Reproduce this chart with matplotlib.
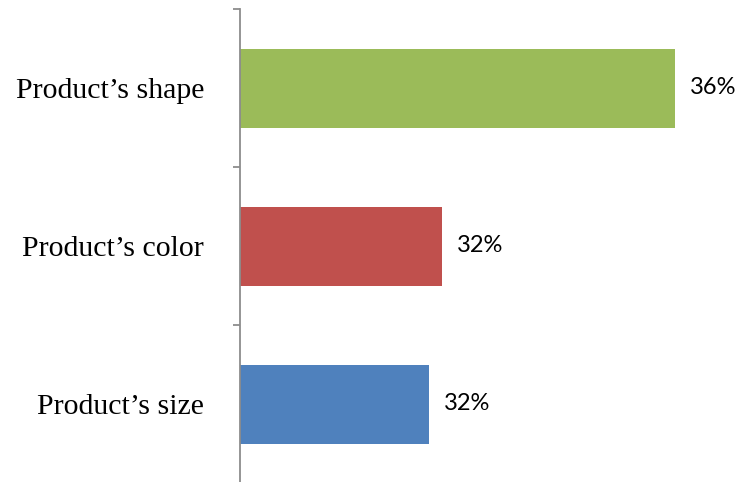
import matplotlib
matplotlib.use("Agg")
import matplotlib.pyplot as plt

# Survey shares (percent), listed bottom to top
categories = ["Product\u2019s size", "Product\u2019s color", "Product\u2019s shape"]
shares = [32.0, 32.2, 35.9]
bar_colors = ["#4F81BD", "#C0504D", "#9BBB59"]

DPI = 100
fig = plt.figure(figsize=(7.49, 4.82), dpi=DPI)
ax = fig.add_axes([240 / 749, -1 / 482, 509 / 749, 474 / 482])

positions = list(range(len(categories)))
ax.barh(positions, shares, height=0.5, left=0, color=bar_colors, zorder=2)

ax.set_xlim(29, 29 + 509 / 63)
ax.set_ylim(-0.5, len(categories) - 0.5)

# value labels to the right of each bar
for y, v in zip(positions, shares):
    ax.annotate(f"{v:.0f}%", xy=(v, y), xytext=(15, 0), textcoords="offset pixels",
                ha="left", va="center", fontsize=17, family="Lato", color="black")

# category axis: boundary ticks as major, labels on minor positions
ax.set_yticks([p - 0.5 for p in positions] + [positions[-1] + 0.5])
ax.set_yticklabels([])
ax.tick_params(axis="y", which="major", length=5, width=1.3, color="#8c8c8c", direction="out")
ax.set_yticks(positions, minor=True)
ax.set_yticklabels(categories, minor=True, family="Liberation Serif", fontsize=21.5)
ax.tick_params(axis="y", which="minor", length=0, pad=26)

ax.set_xticks([])
for side in ["top", "right", "bottom"]:
    ax.spines[side].set_visible(False)
ax.spines["left"].set_color("#8c8c8c")
ax.spines["left"].set_linewidth(1.3)

fig.savefig("out.png", dpi=DPI)
